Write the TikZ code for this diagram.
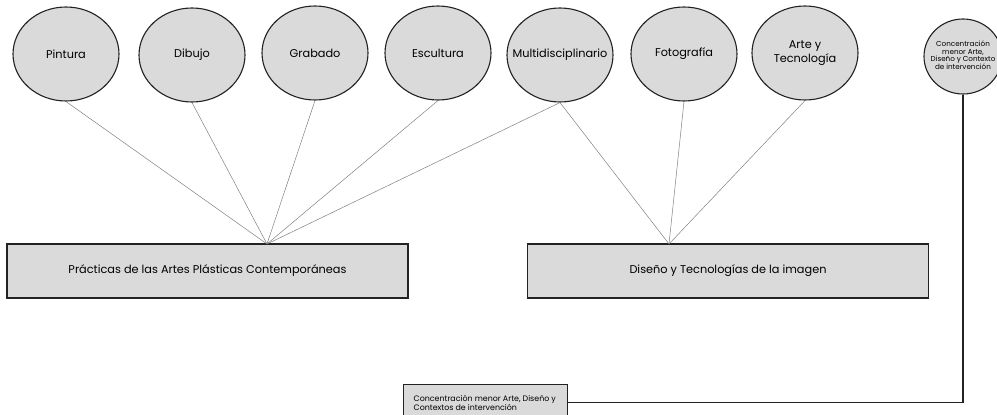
\documentclass[tikz,border=0pt]{standalone}
\usepackage{fontspec}
\setmainfont{Poppins}
\usetikzlibrary{shapes.geometric}
\definecolor{boxfill}{HTML}{DADADA}
\definecolor{edge}{HTML}{222222}
\newcommand{\fixw}[1]{\makebox[0pt]{\begin{tabular}{@{}c@{}}#1\end{tabular}}}
\tikzset{
  area/.style={ellipse, draw=edge, line width=1.1pt, fill=boxfill, minimum width=106pt, minimum height=94pt, inner sep=0pt, align=center, font=\fontsize{11.3}{14}\selectfont},
  program/.style={rectangle, draw=edge, line width=1.4pt, fill=boxfill, minimum width=401pt, minimum height=54pt, inner sep=0pt, font=\fontsize{11.3}{13}\selectfont},
  minorc/.style={ellipse, draw=edge, line width=1.1pt, fill=boxfill, minimum width=78pt, minimum height=75pt, inner sep=0pt, align=center, font=\fontsize{7.2}{7.3}\selectfont},
  minorbox/.style={rectangle, draw=edge, line width=1.4pt, fill=boxfill, minimum width=164pt, minimum height=36pt, inner sep=0pt, align=left, font=\fontsize{7.9}{9}\selectfont},
  link/.style={draw=gray, line width=0.5pt},
  bond/.style={draw=edge, line width=1.2pt}
}
\begin{document}
\begin{tikzpicture}[x=1pt,y=-1pt]
\useasboundingbox (0,0) rectangle (997,415);
\node[area] (pin) at (66,54) {Pintura};
\node[area] (dib) at (192,55) {Dibujo};
\node[area] (gra) at (315,53) {Grabado};
\node[area] (esc) at (438,53) {Escultura};
\node[area] (mul) at (560,55) {\fixw{Multidisciplinario}};
\node[area] (fot) at (684,54) {Fotografía};
\node[area] (art) at (805,53) {Arte y\\Tecnología};
\node[minorc] (con) at (963,56.5) {\fixw{\renewcommand{\arraystretch}{0.8}Concentración\\menor Arte,\\Diseño y Contexto\\de intervención}};
\node[program] (pra) at (207.5,271) {Prácticas de las Artes Plásticas Contemporáneas};
\node[program] (dis) at (728,271) {Diseño y Tecnologías de la imagen};
\node[minorbox, anchor=north west] (cmb) at (403,384) {\hspace*{8pt}\parbox{152pt}{Concentración menor Arte, Diseño y\\Contextos de intervención}};
\coordinate (pj) at (267,244);
\coordinate (dj) at (669,244);
\draw[link] (pin.south) -- (pj);
\draw[link] (dib.south) -- (pj);
\draw[link] (gra.south) -- (pj);
\draw[link] (esc.south) -- (pj);
\draw[link] (mul.south) -- (pj);
\draw[link] (mul.south) -- (dj);
\draw[link] (fot.south) -- (dj);
\draw[link] (art.south) -- (dj);
\draw[bond] (con.south) |- (cmb.east);
\end{tikzpicture}
\end{document}
